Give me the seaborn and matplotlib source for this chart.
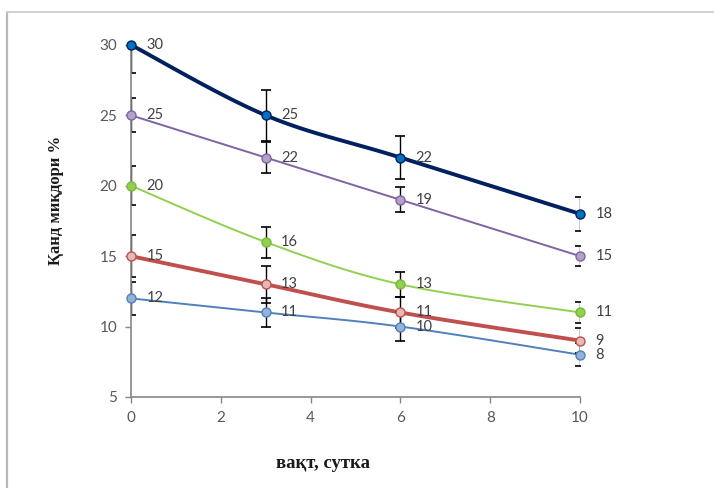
import numpy as np
import pandas as pd
import matplotlib
matplotlib.use("Agg")
import matplotlib.pyplot as plt
from matplotlib.lines import Line2D
import seaborn as sns

days = [0, 3, 6, 10]
navy_vals = [30, 25, 22, 18]
purple_vals = [25, 22, 19, 15]
green_vals = [20, 16, 13, 11]
red_vals = [15, 13, 11, 9]
blue_vals = [12, 11, 10, 8]

navy_err = [2.0, 1.8, 1.5, 1.2]
purple_err = [1.2, 1.1, 0.9, 0.7]
green_err = [1.4, 1.1, 0.9, 0.75]
red_err = [1.5, 1.3, 1.1, 0.9]
blue_err = [1.2, 1.0, 1.0, 0.8]

x_ticks = [0, 2, 4, 6, 8, 10]
y_ticks = [5, 10, 15, 20, 25, 30]
x_label = "вақт, сутка"
y_label = "Қанд миқдори %"

series = [
    # values, errors, line colour, marker face, marker edge, line width
    (navy_vals, navy_err, "#002060", "#0070C0", "#002060", 2.8),
    (purple_vals, purple_err, "#8064A2", "#B3A2C7", "#8064A2", 1.4),
    (green_vals, green_err, "#92D050", "#92D050", "#7AB640", 1.4),
    (red_vals, red_err, "#C0504D", "#E6B9B8", "#C0504D", 2.8),
    (blue_vals, blue_err, "#4F81BD", "#95B3D7", "#4F81BD", 1.4),
]


def excel_smooth(xs, ys, n=40):
    """Excel-style smoothed line (cubic Bezier, tension 1/6) through the data points."""
    px = np.array(xs, float)
    py = np.array(ys, float)
    ex = np.concatenate([[px[0]], px, [px[-1]]])
    ey = np.concatenate([[py[0]], py, [py[-1]]])
    outx, outy = [], []
    t = np.linspace(0, 1, n)
    for i in range(1, len(ex) - 2):
        p0 = np.array([ex[i], ey[i]])
        p3 = np.array([ex[i + 1], ey[i + 1]])
        c1 = p0 + (p3 - np.array([ex[i - 1], ey[i - 1]])) / 6.0
        c2 = p3 - (np.array([ex[i + 2], ey[i + 2]]) - p0) / 6.0
        b = ((1 - t) ** 3)[:, None] * p0 + (3 * (1 - t) ** 2 * t)[:, None] * c1 \
            + (3 * (1 - t) * t ** 2)[:, None] * c2 + (t ** 3)[:, None] * p3
        outx.extend(b[:, 0])
        outy.extend(b[:, 1])
    return np.array(outx), np.array(outy)


sns.set_theme(style="white")
plt.rcParams["font.family"] = ["Lato", "DejaVu Sans"]

fig = plt.figure(figsize=(7.14, 4.88), dpi=100)
ax = fig.add_axes([0.1835, 0.1865, 0.8125 - 0.1835, 0.908 - 0.1865])

for vals, errs, lc, mf, me, lw in series:
    sx, sy = excel_smooth(days, vals)
    df = pd.DataFrame({"x": sx, "y": sy})
    sns.lineplot(data=df, x="x", y="y", sort=False, estimator=None, ax=ax,
                 color=lc, linewidth=lw, zorder=3)
    ax.errorbar(days, vals, yerr=errs, fmt="none", ecolor="black",
                elinewidth=1.0, capsize=3.5, capthick=1.2, zorder=4)
    ax.plot(days, vals, linestyle="none", marker="o", markersize=6.5,
            markerfacecolor=mf, markeredgecolor=me, markeredgewidth=1.0,
            zorder=5, clip_on=False)
    for xv, yv in zip(days, vals):
        ax.annotate(str(yv), (xv, yv), xytext=(11, 0), textcoords="offset points",
                    ha="left", va="center", fontsize=10.5, color="#404040", zorder=6)

ax.set_xlim(0, 10)
ax.set_ylim(5, 30)
ax.set_xticks(x_ticks)
ax.set_yticks(y_ticks)
ax.tick_params(axis="both", which="major", direction="out", length=4, width=1,
               color="#868686", labelsize=11, labelcolor="#595959", pad=6,
               bottom=True, left=True)
for side in ["top", "right"]:
    ax.spines[side].set_visible(False)
for side in ["left", "bottom"]:
    ax.spines[side].set_color("#868686")
    ax.spines[side].set_linewidth(1.2)
    ax.spines[side].set_zorder(4.5)
ax.grid(False)
ax.set_xlabel("")
ax.set_ylabel("")

fig.text(0.452, 0.05, x_label, ha="center", va="center", fontsize=13.5,
         fontweight="bold", family=["Liberation Serif", "DejaVu Serif"], color="#1a1a1a")
fig.text(0.078, 0.59, y_label, ha="center", va="center", rotation=90, fontsize=12,
         fontweight="bold", family=["Liberation Serif", "DejaVu Serif"], color="#1a1a1a")

# outer frame of the chart area (left and top edges)
fig.add_artist(Line2D([0.0105, 0.0105], [0.0, 0.975], transform=fig.transFigure,
                      color="#b8b8b8", linewidth=1.6))
fig.add_artist(Line2D([0.0105, 1.0], [0.975, 0.975], transform=fig.transFigure,
                      color="#d0d0d0", linewidth=1.4))

fig.savefig("out.png", dpi=100)
